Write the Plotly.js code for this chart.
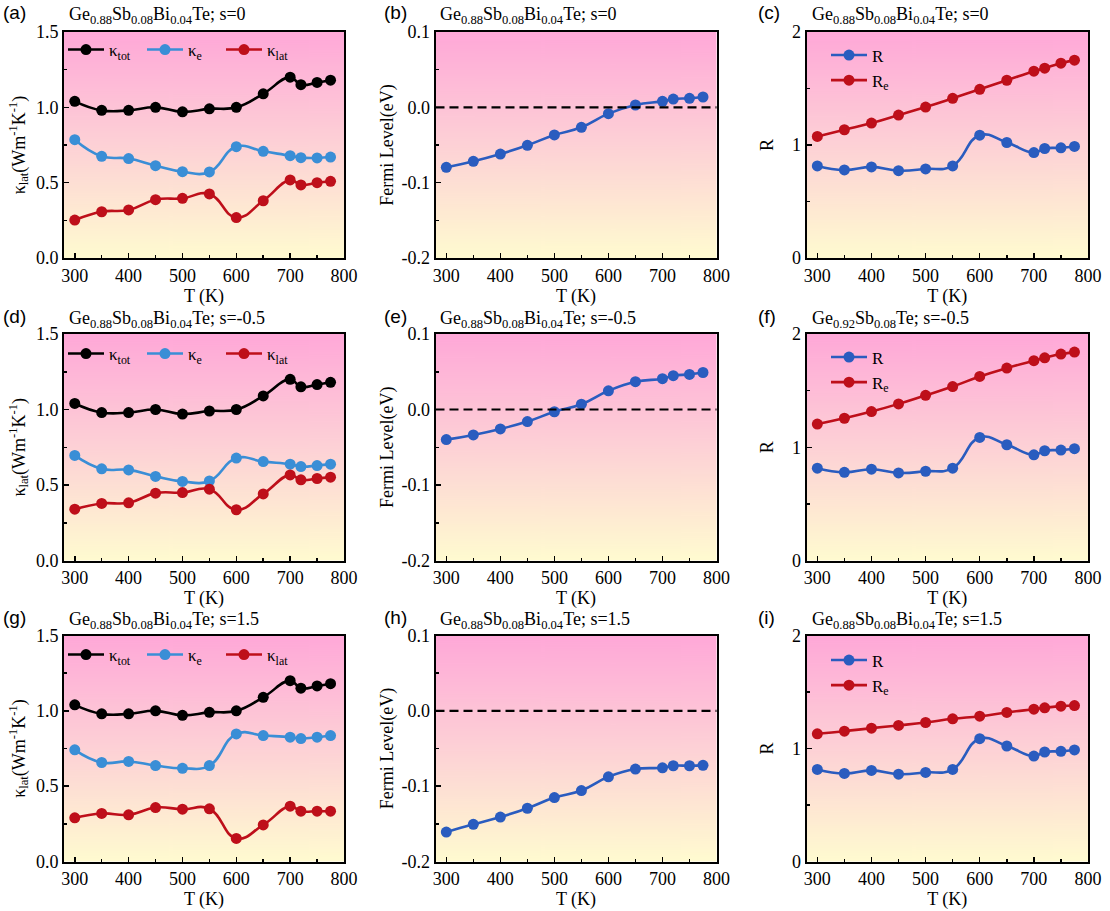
<!DOCTYPE html>
<html>
<head>
<meta charset="utf-8">
<script src="https://cdn.plot.ly/plotly-3.0.1.min.js"></script>
<style>
  html, body { margin: 0; padding: 0; background: #ffffff; }
  #chart { width: 1110px; height: 911px; }
</style>
</head>
<body>
<div id="chart"></div>
<script>
// Temperature points (K)
const T = [300, 350, 400, 450, 500, 550, 600, 650, 700, 720, 750, 775];

// Thermal conductivities (W m^-1 K^-1)
const kTot      = [1.04, 0.98, 0.98, 1.00, 0.97, 0.99, 1.00, 1.09, 1.20, 1.15, 1.165, 1.18];
const kE_s0     = [0.785, 0.675, 0.66, 0.613, 0.573, 0.571, 0.739, 0.708, 0.679, 0.666, 0.664, 0.67];
const kLat_s0   = [0.252, 0.307, 0.319, 0.387, 0.396, 0.425, 0.268, 0.38, 0.518, 0.485, 0.50, 0.509];
const kE_sm05   = [0.696, 0.607, 0.60, 0.557, 0.524, 0.527, 0.678, 0.655, 0.638, 0.622, 0.629, 0.638];
const kLat_sm05 = [0.34, 0.378, 0.382, 0.446, 0.45, 0.472, 0.336, 0.441, 0.567, 0.534, 0.543, 0.552];
const kE_s15    = [0.741, 0.657, 0.664, 0.637, 0.619, 0.637, 0.847, 0.836, 0.825, 0.816, 0.825, 0.836];
const kLat_s15  = [0.29, 0.319, 0.31, 0.358, 0.347, 0.35, 0.153, 0.243, 0.367, 0.334, 0.334, 0.334];

// Fermi level (eV)
const fermi_s0   = [-0.0796, -0.0717, -0.062, -0.0504, -0.0367, -0.0265, -0.0084, 0.0031, 0.008, 0.011, 0.012, 0.0137];
const fermi_sm05 = [-0.0399, -0.0337, -0.0257, -0.016, -0.003, 0.007, 0.0248, 0.0368, 0.0408, 0.0448, 0.0465, 0.049];
const fermi_s15  = [-0.161, -0.1507, -0.141, -0.1293, -0.1151, -0.1058, -0.0876, -0.0773, -0.0756, -0.0729, -0.0729, -0.0724];
const fermiRef = 0;
const fermiTicks = [-0.2, -0.1, 0.0, 0.1];
const fermiTickText = ['-0.2', '-0.1', '0.0', '0.1'];

// Ratios
const R       = [0.815, 0.779, 0.806, 0.773, 0.788, 0.815, 1.087, 1.022, 0.933, 0.969, 0.975, 0.987];
const Re_s0   = [1.076, 1.135, 1.194, 1.265, 1.336, 1.413, 1.493, 1.573, 1.653, 1.68, 1.724, 1.751];
const Re_sm05 = [1.205, 1.256, 1.315, 1.383, 1.459, 1.536, 1.625, 1.699, 1.764, 1.79, 1.823, 1.84];
const Re_s15  = [1.13, 1.153, 1.18, 1.204, 1.23, 1.263, 1.286, 1.319, 1.348, 1.36, 1.375, 1.38];

// Panel text
const panelLetters = ['(a)', '(b)', '(c)', '(d)', '(e)', '(f)', '(g)', '(h)', '(i)'];
const compBi = 'Ge<sub>0.88</sub>Sb<sub>0.08</sub>Bi<sub>0.04</sub>Te';
const compSb = 'Ge<sub>0.92</sub>Sb<sub>0.08</sub>Te';
const panelTitles = [
  compBi + '; s=0', compBi + '; s=0', compBi + '; s=0',
  compBi + '; s=-0.5', compBi + '; s=-0.5', compSb + '; s=-0.5',
  compBi + '; s=1.5', compBi + '; s=1.5', compBi + '; s=1.5'
];

const W = 1110, H = 911;
const SERIF = '"Liberation Serif", "Times New Roman", serif';
const SANS = '"Liberation Sans", Arial, sans-serif';
const C_BLACK = '#000000', C_KE = '#3A8ED6', C_RED = '#BE0F1A', C_BLUE = '#2A5CBF';

// Plot-area pixel boxes
const colPx = [[64, 344], [435.5, 716.5], [806.5, 1088]];
const rowPx = [[32, 258], [334, 560.5], [635.5, 861.5]];

// Vertical pink-to-yellow gradient for the plot areas
function gradientURL() {
  const cv = document.createElement('canvas');
  cv.width = 4; cv.height = 400;
  const ctx = cv.getContext('2d');
  const g = ctx.createLinearGradient(0, 0, 0, 400);
  g.addColorStop(0, '#FFA8D8');
  g.addColorStop(0.5, '#FDD1D6');
  g.addColorStop(1, '#FFFBD0');
  ctx.fillStyle = g;
  ctx.fillRect(0, 0, 4, 400);
  return cv.toDataURL('image/png');
}
const grad = gradientURL();

const sfx = n => (n === 1 ? '' : String(n));

const layout = {
  width: W, height: H,
  margin: {l: 0, r: 0, t: 0, b: 0},
  paper_bgcolor: '#ffffff',
  plot_bgcolor: 'rgba(0,0,0,0)',
  font: {family: SERIF, size: 18, color: '#000'},
  images: [], shapes: [], annotations: []
};

const data = [];
const legendIds = {1: 'legend', 3: 'legend2', 4: 'legend3', 6: 'legend4', 7: 'legend5', 9: 'legend6'};

function addLine(n, y, name, color, show) {
  data.push({
    type: 'scatter', mode: 'lines+markers',
    x: T, y: y, name: name,
    xaxis: 'x' + sfx(n), yaxis: 'y' + sfx(n),
    line: {color: color, width: 2.6, shape: 'spline', smoothing: 1.3},
    marker: {color: color, size: 11, symbol: 'circle'},
    showlegend: !!show,
    legend: legendIds[n] || 'legend'
  });
}

for (let n = 1; n <= 9; n++) {
  const r = Math.floor((n - 1) / 3), c = (n - 1) % 3;
  const [x0, x1] = colPx[c];
  const [yt, yb] = rowPx[r];
  const xa = 'xaxis' + sfx(n), ya = 'yaxis' + sfx(n);
  const common = {
    showline: true, mirror: true, linecolor: '#000', linewidth: 2,
    showgrid: false, zeroline: false,
    ticks: 'inside', ticklen: 5, tickwidth: 1.5, tickcolor: '#000',
    tickfont: {family: SERIF, size: 18, color: '#000'}
  };
  layout[xa] = Object.assign({}, common, {
    domain: [x0 / W, x1 / W], anchor: 'y' + sfx(n),
    range: [280, 800], tick0: 300, dtick: 100,
    minor: {dtick: 50, ticks: 'inside', ticklen: 3, tickwidth: 1.5, tickcolor: '#000'},
    title: {text: 'T (K)', font: {family: SERIF, size: 18}, standoff: 0}
  });
  let yopts;
  if (c === 0) {
    yopts = {range: [0, 1.5], dtick: 0.5, tick0: 0, tickformat: '.1f',
      minor: {dtick: 0.25, ticks: 'inside', ticklen: 3, tickwidth: 1.5, tickcolor: '#000'},
      title: {text: 'κ<sub>lat</sub>(Wm<sup>-1</sup>K<sup>-1</sup>)', font: {family: SERIF, size: 18}, standoff: 6}};
  } else if (c === 1) {
    yopts = {range: [-0.2, 0.1], tickvals: fermiTicks, ticktext: fermiTickText, tickmode: 'array',
      minor: {dtick: 0.05, tick0: 0, ticks: 'inside', ticklen: 3, tickwidth: 1.5, tickcolor: '#000'},
      title: {text: 'Fermi Level(eV)', font: {family: SERIF, size: 18}, standoff: 3}};
  } else {
    yopts = {range: [0, 2], dtick: 1, tick0: 0,
      minor: {dtick: 0.5, ticks: 'inside', ticklen: 3, tickwidth: 1.5, tickcolor: '#000'},
      title: {text: 'R', font: {family: SERIF, size: 18}, standoff: 14}};
  }
  layout[ya] = Object.assign({}, common, yopts, {
    domain: [(H - yb) / H, (H - yt) / H], anchor: 'x' + sfx(n)
  });

  layout.images.push({
    source: grad, xref: 'x' + sfx(n) + ' domain', yref: 'y' + sfx(n) + ' domain',
    x: 0, y: 1, sizex: 1, sizey: 1, xanchor: 'left', yanchor: 'top',
    sizing: 'stretch', layer: 'below'
  });

  // Panel letter and composition label
  const letterX = [1, 382, 756][c];
  const letterY = [12.5, 316, 617][r];
  layout.annotations.push({
    xref: 'paper', yref: 'paper', x: letterX / W, y: 1 - letterY / H,
    xanchor: 'left', yanchor: 'middle', showarrow: false,
    text: panelLetters[n - 1], font: {family: SANS, size: 19, color: '#000'}
  });
  const titleX = [67, 438, 810][c];
  const titleY = [16, 319, 620][r];
  layout.annotations.push({
    xref: 'paper', yref: 'paper', x: titleX / W, y: 1 - titleY / H,
    xanchor: 'left', yanchor: 'middle', showarrow: false,
    text: panelTitles[n - 1], font: {family: SERIF, size: 18, color: '#000'}
  });
}

// Thermal conductivity panels
addLine(1, kTot, 'κ<sub>tot</sub>', C_BLACK, true);
addLine(1, kE_s0, 'κ<sub>e</sub>', C_KE, true);
addLine(1, kLat_s0, 'κ<sub>lat</sub>', C_RED, true);
addLine(4, kTot, 'κ<sub>tot</sub>', C_BLACK, true);
addLine(4, kE_sm05, 'κ<sub>e</sub>', C_KE, true);
addLine(4, kLat_sm05, 'κ<sub>lat</sub>', C_RED, true);
addLine(7, kTot, 'κ<sub>tot</sub>', C_BLACK, true);
addLine(7, kE_s15, 'κ<sub>e</sub>', C_KE, true);
addLine(7, kLat_s15, 'κ<sub>lat</sub>', C_RED, true);

// Fermi level panels
addLine(2, fermi_s0, 'E<sub>F</sub>', C_BLUE, false);
addLine(5, fermi_sm05, 'E<sub>F</sub>', C_BLUE, false);
addLine(8, fermi_s15, 'E<sub>F</sub>', C_BLUE, false);
[2, 5, 8].forEach(n => {
  layout.shapes.push({
    type: 'line', xref: 'x' + n + ' domain', x0: 0, x1: 1,
    yref: 'y' + n, y0: fermiRef, y1: fermiRef,
    line: {color: '#000', width: 2.2, dash: '9px,5px'}, layer: 'above'
  });
});

// Ratio panels
addLine(3, R, 'R', C_BLUE, true);
addLine(3, Re_s0, 'R<sub>e</sub>', C_RED, true);
addLine(6, R, 'R', C_BLUE, true);
addLine(6, Re_sm05, 'R<sub>e</sub>', C_RED, true);
addLine(9, R, 'R', C_BLUE, true);
addLine(9, Re_s15, 'R<sub>e</sub>', C_RED, true);

// Legends
const legFont = {family: SERIF, size: 17, color: '#000'};
function hLegend(yPx) {
  return {orientation: 'h', x: 63 / W, y: 1 - yPx / H, xanchor: 'left', yanchor: 'middle',
    bgcolor: 'rgba(0,0,0,0)', borderwidth: 0, font: legFont, traceorder: 'normal',
    itemwidth: 36, entrywidth: 28, entrywidthmode: 'pixels'};
}
function vLegend(yPx) {
  return {orientation: 'v', x: 826 / W, y: 1 - yPx / H, xanchor: 'left', yanchor: 'middle',
    bgcolor: 'rgba(0,0,0,0)', borderwidth: 0, font: legFont, traceorder: 'normal',
    tracegroupgap: 0, itemwidth: 36};
}
layout.legend = hLegend(50);
layout.legend3 = hLegend(354);
layout.legend5 = hLegend(655);
layout.legend2 = vLegend(68);
layout.legend4 = vLegend(370);
layout.legend6 = vLegend(673);

Plotly.newPlot('chart', data, layout, {displayModeBar: false, staticPlot: true});
</script>
</body>
</html>
